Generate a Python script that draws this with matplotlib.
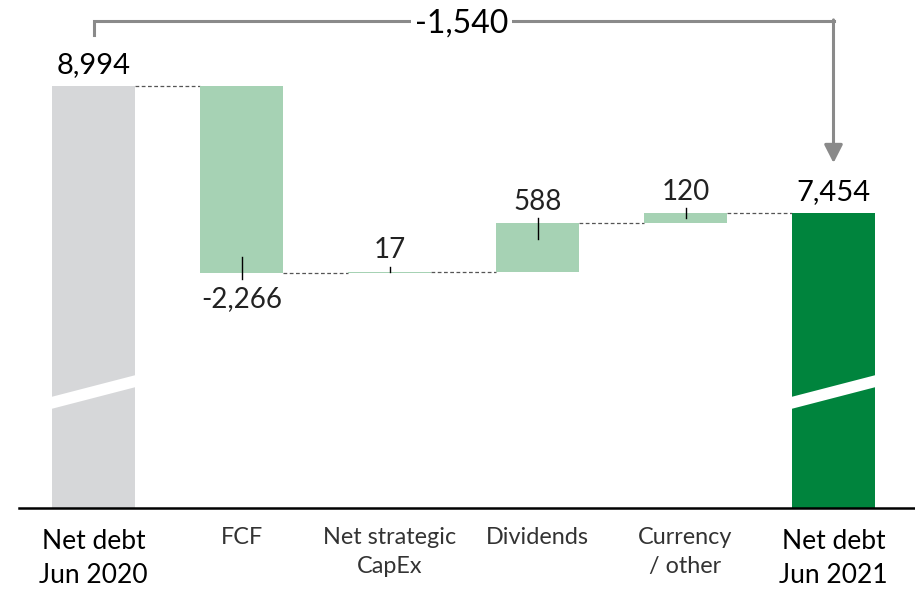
import numpy as np
import matplotlib.pyplot as plt

# data
categories = ['Net debt\nJun 2020', 'FCF', 'Net strategic\nCapEx', 'Dividends',
              'Currency\n/ other', 'Net debt\nJun 2021']
start_value = 8994
deltas = [-2266, 17, 588, 120]
end_value = 7454
change_label = '-1,540'

GRAY = '#D6D7D9'
LIGHT = '#A6D2B4'
DARK = '#00843D'
BRACKET = '#8A8A8A'

plt.rcParams['font.family'] = ['Lato', 'DejaVu Sans']

# px -> data helpers (fig is 915x590 at dpi 100)
S = 12.12          # data units per pixel (vertical)
Y0 = 3879          # value at the axis line (broken axis)
W = 0.56           # bar width


def px_y(py):
    return Y0 + (508 - py) * S


def main():
    fig = plt.figure(figsize=(9.15, 5.9), dpi=100)
    ax = fig.add_axes([19 / 915, (590 - 508) / 590, (915 - 19) / 915, 508 / 590])

    n = len(categories)
    x = np.arange(n)

    # running totals
    totals = [start_value]
    for d in deltas:
        totals.append(totals[-1] + d)

    # totals bars
    ax.bar(x[0], start_value, W, color=GRAY, zorder=2)
    ax.bar(x[-1], end_value, W, color=DARK, zorder=2)

    # delta bars
    for i, d in enumerate(deltas):
        lo = min(totals[i], totals[i + 1])
        ax.bar(x[i + 1], abs(d), W, bottom=lo, color=LIGHT, zorder=2)

    # dashed connectors
    for i in range(n - 1):
        ax.plot([x[i] + W / 2, x[i + 1] - W / 2], [totals[i]] * 2,
                color='#555555', lw=0.9, ls=(0, (3, 2)), zorder=1)

    # axis break bands
    for xi in (x[0], x[-1]):
        xl, xr = xi - W / 2 - 0.02, xi + W / 2 + 0.02
        yl, yr = px_y(397.5), px_y(374.5)
        band = 12 * S
        ax.fill([xl, xr, xr, xl], [yl, yr, yr - band, yl - band],
                color='white', lw=0, zorder=3)

    # total labels
    for xi, v in ((x[0], start_value), (x[-1], end_value)):
        ax.annotate(f'{v:,}', (xi, v), xytext=(0, 9.4),
                    textcoords='offset points', ha='center', va='baseline',
                    fontsize=21, color='black')

    # delta labels and leader ticks
    for i, d in enumerate(deltas):
        xi = x[i + 1]
        end = totals[i + 1]
        inside = min(16 * S, abs(d) / 2)
        if d >= 0:
            ax.plot([xi, xi], [end - inside, end + 5 * S], color='black', lw=1, zorder=3)
            ax.annotate(f'{d:,}', (xi, end), xytext=(0, 9.4),
                        textcoords='offset points', ha='center', va='baseline',
                        fontsize=20, color='#222222')
        else:
            ax.plot([xi, xi], [end + inside, end - 6 * S], color='black', lw=1, zorder=3)
            ax.annotate(f'{d:,}', (xi, end), xytext=(0, -24.5),
                        textcoords='offset points', ha='center', va='baseline',
                        fontsize=20, color='#222222')

    # bracket with arrow
    y_top = px_y(21)
    ax.plot([x[0], x[0], x[-1]], [px_y(35), y_top, y_top], color=BRACKET, lw=2.2,
            solid_joinstyle='miter', clip_on=False, zorder=4)
    ax.annotate('', xy=(x[-1], px_y(163)), xytext=(x[-1], y_top + 1.1 * S),
                arrowprops=dict(arrowstyle='-|>,head_length=0.55,head_width=0.28',
                                color=BRACKET, lw=2.2, mutation_scale=20,
                                shrinkA=0, shrinkB=0), zorder=4)
    ax.annotate(change_label, ((x[2] + x[3]) / 2 - 0.014, y_top), xytext=(0, -8),
                textcoords='offset points', ha='center', va='baseline',
                fontsize=23, color='black', zorder=5,
                bbox=dict(boxstyle='square,pad=0.12', fc='white', ec='none'))

    # category labels
    for i, lab in enumerate(categories):
        big = i in (0, n - 1)
        ax.annotate(lab, (x[i], 0), xycoords=('data', 'axes fraction'),
                    xytext=(0, -15 if big else -13.4),
                    textcoords='offset points', ha='center', va='top',
                    multialignment='center',
                    fontsize=19 if big else 16.8,
                    color='black' if big else '#333333',
                    linespacing=1.45 if big else 1.5)

    ax.set_xlim((19 - 93.5) / 148, (915 - 93.5) / 148)
    ax.set_ylim(Y0, Y0 + 508 * S)
    for side in ('top', 'right', 'left'):
        ax.spines[side].set_visible(False)
    ax.spines['bottom'].set_linewidth(1.8)
    ax.spines['bottom'].set_color('black')
    ax.set_xticks([])
    ax.set_yticks([])

    fig.savefig('out.png', dpi=100)


if __name__ == '__main__':
    main()
